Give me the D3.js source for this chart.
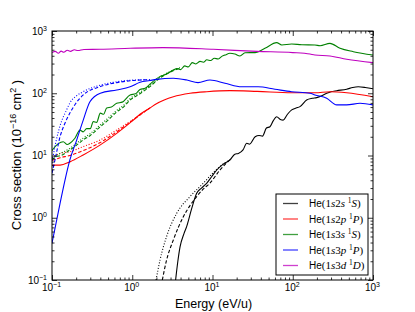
<!DOCTYPE html>
<html>
<head>
<meta charset="utf-8">
<script src="https://cdn.jsdelivr.net/npm/d3@7"></script>
<style>
  body { margin: 0; background: #fff; }
  svg text { font-family: "Liberation Sans", Arial, sans-serif; fill: #000; }
</style>
</head>
<body>
<div id="chart"></div>
<script>
// [energy (eV/u), cross section (1e-16 cm^2)]
const he2s_solid = [[3.47, 0.1], [3.7, 0.2], [3.94, 0.34], [4.4, 0.55], [4.76, 0.72], [5.5, 1.4], [6.35, 2.47], [7.3, 3.0],
  [8.5, 3.6], [9.8, 4.6], [11.3, 5.85], [13.5, 7.2], [16.5, 8.5], [19, 10.5], [21, 10.8], [24, 12.3], [26.7, 15.7],
  [29, 15.2], [34, 20], [38, 21], [42, 20.5], [47, 27.6], [52, 29], [57, 36], [63, 42], [70, 38], [76, 37], [86, 46],
  [97, 54], [110, 58], [123, 61], [149, 78], [175, 83], [199, 85], [230, 91], [265, 100], [300, 106], [353, 110],
  [470, 116], [560, 124], [656, 127], [800, 124], [1000, 118]];
const he2s_dash = [[2.37, 0.1], [2.68, 0.21], [3.25, 0.44], [4.33, 1.04], [5.3, 1.6], [6.35, 2.19], [7.7, 2.9],
  [9.3, 3.6], [12.4, 5.85], [15, 7.6], [16.5, 8.5]];
const he2s_dot = [[1.98, 0.1], [2.22, 0.21], [2.68, 0.5], [3.58, 1.18], [5.25, 2.19], [7.7, 3.6], [10.5, 5.5],
  [13, 7], [16.5, 8.5]];

const he2p_solid = [[0.1, 7.0], [0.126, 7.0], [0.167, 7.9], [0.245, 10.2], [0.4, 14.8], [0.64, 22.7], [1.03, 37],
  [1.25, 46], [1.66, 58], [2.0, 68], [2.5, 78], [3.25, 88], [5.25, 100], [8.5, 106], [16.5, 110], [36, 107],
  [97, 102], [189, 102], [291, 106], [470, 102], [1000, 88]];
const he2p_dash = [[0.1, 8.3], [0.126, 9.2], [0.167, 10.0], [0.245, 12.0], [0.4, 16.2], [0.64, 24], [1.03, 37.5],
  [1.66, 58]];
const he2p_dot = [[0.1, 9.2], [0.126, 10.8], [0.167, 11.5], [0.245, 13.9], [0.4, 17.8], [0.64, 25.6], [1.03, 38],
  [1.66, 58]];

const he3s_solid = [[0.1, 12], [0.11, 14], [0.12, 15.5], [0.138, 16.6], [0.155, 15], [0.167, 15.7], [0.193, 18.9],
  [0.223, 25.6], [0.245, 24], [0.27, 27], [0.3, 27], [0.327, 35], [0.36, 34], [0.4, 48], [0.44, 46], [0.48, 58],
  [0.55, 60], [0.64, 69], [0.75, 72], [0.94, 94], [1.1, 98], [1.25, 115], [1.45, 120], [1.66, 140], [2.2, 185],
  [2.6, 200], [3.25, 236], [3.6, 250], [4.0, 240], [4.5, 275], [5.0, 265], [5.6, 310], [6.2, 295], [7.0, 325],
  [7.7, 315], [8.5, 345], [9.5, 335], [10.5, 365], [11.8, 355], [13.2, 395], [14.3, 411], [16.5, 438], [19, 426],
  [22, 397], [25.4, 448], [34, 450], [45, 527], [63, 650], [73, 596], [97, 618], [130, 600], [189, 596],
  [219, 580], [291, 633], [388, 527], [569, 465], [1000, 411]];
const he3s_dash = [[0.1, 8.5], [0.114, 9.6], [0.13, 10], [0.167, 12.3], [0.2, 14.5], [0.245, 17.8], [0.3, 21],
  [0.4, 29], [0.5, 37], [0.64, 50], [0.8, 62], [0.94, 78], [1.2, 95], [1.66, 128], [2.2, 175], [3, 220], [4, 255]];
const he3s_dot = [[0.1, 9], [0.114, 10.2], [0.13, 11], [0.167, 13], [0.2, 15.5], [0.245, 19], [0.3, 22.5],
  [0.4, 31], [0.5, 40], [0.64, 53], [0.8, 66], [0.94, 82], [1.2, 100], [1.66, 133], [2.2, 180], [3, 225], [4, 258]];

const he3p_solid = [[0.1, 0.39], [0.126, 1.7], [0.145, 4.0], [0.167, 8.5], [0.203, 17.7], [0.245, 37], [0.297, 73],
  [0.4, 100], [0.64, 113], [0.94, 127], [1.25, 150], [1.66, 160], [2.0, 167], [3.25, 174], [4.8, 163], [6.6, 148],
  [9.3, 163], [14.3, 145], [23, 127], [37, 127], [60, 116], [97, 106], [164, 100], [189, 94], [265, 83],
  [353, 65], [470, 65], [690, 69], [1000, 65]];
const he3p_dash = [[0.1, 5.2], [0.109, 8.5], [0.126, 20], [0.145, 33], [0.167, 48], [0.2, 70], [0.245, 94],
  [0.4, 128], [0.64, 148], [1.0, 160], [1.66, 165]];
const he3p_dot = [[0.1, 7.5], [0.103, 9.5], [0.126, 30], [0.152, 54], [0.167, 70], [0.2, 90], [0.245, 106],
  [0.4, 135], [0.64, 153], [0.94, 162], [1.66, 165]];

const he3d_solid = [[0.1, 450], [0.11, 470], [0.12, 440], [0.13, 475], [0.14, 455], [0.155, 490], [0.17, 470],
  [0.19, 500], [0.21, 485], [0.25, 505], [0.4, 508], [0.94, 527], [2.4, 540], [10.2, 508], [36, 470], [100, 450],
  [164, 426], [189, 411], [291, 397], [470, 351], [1000, 310]];

const states = ["1s2s", "1s2p", "1s3s", "1s3p", "1s3d"];
const terms = ["S", "P", "S", "P", "D"];
const colors = ["#000000", "#ff0000", "#008000", "#0000ff", "#bf00bf"];
const decades = [-1, 0, 1, 2, 3];

const curves = [
  [he2s_solid, 0, "solid"], [he2s_dash, 0, "dash"], [he2s_dot, 0, "dot"],
  [he2p_solid, 1, "solid"], [he2p_dash, 1, "dash"], [he2p_dot, 1, "dot"],
  [he3s_solid, 2, "solid"], [he3s_dash, 2, "dash"], [he3s_dot, 2, "dot"],
  [he3p_solid, 3, "solid"], [he3p_dash, 3, "dash"], [he3p_dot, 3, "dot"],
  [he3d_solid, 4, "solid"]
];
const dashes = {solid: null, dash: "3.5,2", dot: "1,1.8"};

const W = 415, H = 312;
const margin = {top: 31, right: 42, bottom: 32, left: 52};
const width = W - margin.left - margin.right;
const height = H - margin.top - margin.bottom;

const svg = d3.select("#chart").append("svg")
  .attr("width", W).attr("height", H);
const g = svg.append("g").attr("transform", `translate(${margin.left},${margin.top})`);

const x = d3.scaleLog().domain([0.1, 1000]).range([0, width]);
const y = d3.scaleLog().domain([0.1, 1000]).range([height, 0]);

const majors = decades.map(e => Math.pow(10, e));
const minors = [];
decades.slice(0, -1).forEach(e => {
  for (let k = 2; k <= 9; k++) minors.push(k * Math.pow(10, e));
});

g.append("clipPath").attr("id", "clip")
  .append("rect").attr("width", width).attr("height", height);

// curves
const line = d3.line()
  .x(d => x(d[0]))
  .y(d => y(d[1]))
  .curve(d3.curveMonotoneX);

g.append("g").attr("clip-path", "url(#clip)")
  .selectAll("path")
  .data(curves)
  .join("path")
  .attr("fill", "none")
  .attr("stroke", d => colors[d[1]])
  .attr("stroke-width", 1.1)
  .attr("stroke-dasharray", d => dashes[d[2]])
  .attr("d", d => line(d[0]));

// axes, ticks pointing inward
function styleAxis(sel) {
  sel.select(".domain").remove();
  sel.selectAll("line").attr("stroke", "#000").attr("stroke-width", 0.8);
}
function sup(text, e) {
  text.text(null);
  text.append("tspan").text("10");
  text.append("tspan").attr("dy", "-4px").attr("font-size", "7px").text(e < 0 ? "\u2212" + (-e) : e);
}

const xMajor = g.append("g").attr("transform", `translate(0,${height})`)
  .call(d3.axisBottom(x).tickValues(majors).tickSizeInner(-5).tickSizeOuter(0).tickPadding(4).tickFormat(""))
  .call(styleAxis);
xMajor.selectAll(".tick text").attr("font-size", "10px").attr("dx", "-1px")
  .each(function(d) { sup(d3.select(this), Math.round(Math.log10(d))); });

const yMajor = g.append("g")
  .call(d3.axisLeft(y).tickValues(majors).tickSizeInner(-5).tickSizeOuter(0).tickPadding(5).tickFormat(""))
  .call(styleAxis);
yMajor.selectAll(".tick text").attr("font-size", "10px")
  .each(function(d) { sup(d3.select(this), Math.round(Math.log10(d))); });

g.append("g").attr("transform", `translate(0,${height})`)
  .call(d3.axisBottom(x).tickValues(minors).tickSizeInner(-2.5).tickSizeOuter(0).tickFormat(""))
  .call(styleAxis);
g.append("g")
  .call(d3.axisLeft(y).tickValues(minors).tickSizeInner(-2.5).tickSizeOuter(0).tickFormat(""))
  .call(styleAxis);
g.append("g")
  .call(d3.axisTop(x).tickValues(majors).tickSizeInner(-5).tickSizeOuter(0).tickFormat(""))
  .call(styleAxis);
g.append("g")
  .call(d3.axisTop(x).tickValues(minors).tickSizeInner(-2.5).tickSizeOuter(0).tickFormat(""))
  .call(styleAxis);
g.append("g").attr("transform", `translate(${width},0)`)
  .call(d3.axisRight(y).tickValues(majors).tickSizeInner(-5).tickSizeOuter(0).tickFormat(""))
  .call(styleAxis);
g.append("g").attr("transform", `translate(${width},0)`)
  .call(d3.axisRight(y).tickValues(minors).tickSizeInner(-2.5).tickSizeOuter(0).tickFormat(""))
  .call(styleAxis);

g.append("rect")
  .attr("width", width).attr("height", height)
  .attr("fill", "none").attr("stroke", "#000").attr("stroke-width", 1);

// axis labels
svg.append("text")
  .attr("x", margin.left + width / 2 + 1).attr("y", 308)
  .attr("text-anchor", "middle").attr("font-size", "12.5px")
  .text("Energy (eV/u)");

const yl = svg.append("text")
  .attr("transform", "translate(21,155) rotate(-90)")
  .attr("text-anchor", "middle").attr("font-size", "13px");
yl.append("tspan").text("Cross section (10");
yl.append("tspan").attr("dy", "-5px").attr("font-size", "9px").text("\u221216");
yl.append("tspan").attr("dy", "5px").text(" cm");
yl.append("tspan").attr("dy", "-5px").attr("font-size", "9px").text("2");
yl.append("tspan").attr("dy", "5px").text(" )");

// legend
const legend = svg.append("g").attr("transform", "translate(276,194)");
legend.append("rect")
  .attr("width", 92).attr("height", 81)
  .attr("fill", "#fff").attr("stroke", "#000").attr("stroke-width", 1);

const rows = legend.selectAll("g.row")
  .data(states)
  .join("g")
  .attr("class", "row")
  .attr("transform", (_, i) => `translate(0,${9.5 + i * 15.5})`);

rows.append("line")
  .attr("x1", 7).attr("x2", 22)
  .attr("stroke", (_, i) => colors[i])
  .attr("stroke-opacity", 0.75)
  .attr("stroke-width", 1.3);

rows.append("text")
  .attr("x", 33).attr("dy", "0.35em").attr("font-size", "10px")
  .each(function(s, i) {
    const t = d3.select(this);
    t.append("tspan").text("He");
    const serif = (txt, it) => t.append("tspan")
      .style("font-family", "'Liberation Serif', 'DejaVu Serif', serif")
      .style("font-style", it ? "italic" : "normal")
      .attr("font-size", "11px")
      .text(txt);
    serif("(", false);
    s.split("").forEach(c => serif(c, /[a-z]/.test(c)));
    serif(" ", false);
    t.append("tspan")
      .style("font-family", "'Liberation Serif', 'DejaVu Serif', serif")
      .attr("font-size", "7.5px").attr("dy", "-4px").text("1");
    serif(terms[i], true).attr("dy", "4px");
    serif(")", false);
  });
</script>
</body>
</html>
